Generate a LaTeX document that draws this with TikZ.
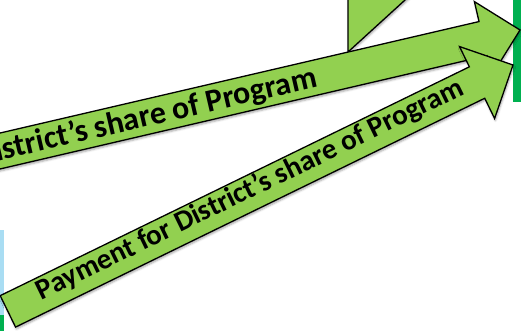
\documentclass[tikz,border=0pt]{standalone}
\usepackage{fontspec}
\setmainfont{Carlito}
\usepackage{xcolor}
\definecolor{lgreen}{RGB}{146,208,80}
\definecolor{dgreen}{RGB}{0,176,80}
\definecolor{lblue}{RGB}{169,221,243}
\usepackage{tikz}
\usetikzlibrary{shadows.blur}
\tikzstyle{blockarrow} = [
    fill=lgreen,
    draw=black,
    line width=1.3pt,
    line join=miter,
    blur shadow={shadow xshift=0.8pt, shadow yshift=-2pt, shadow blur radius=2pt, shadow opacity=35},
]
\tikzstyle{arrowtext} = [
    font=\fontsize{29}{32}\selectfont\bfseries,
    inner sep=0pt,
    anchor=base,
    transform shape,
]
\tikzstyle{bigtext} = [
    arrowtext,
    font=\fontsize{32}{35}\selectfont\bfseries,
]

\begin{document}
\begin{tikzpicture}[x=1pt,y=1pt]
    \useasboundingbox (0,0) rectangle (521,330);
    \clip (0,0) rectangle (521,330);

    % boxes
    \fill[dgreen] (512.5,228) rectangle (530,340);
    \fill[lblue] (-10,100) rectangle (4,15);
    \fill[dgreen] (-10,15) rectangle (4,-10);

    % upper arrow piece
    \draw[blockarrow] (348,340) -- (348,278) -- (416,340) -- cycle;

    % arrows
    \begin{scope}[shift={(520,300)}, rotate=13.1]
        \draw[blockarrow] (0,0) -- (-38,38) -- (-38,17.5) -- (-640,17.5)
            -- (-640,-17.5) -- (-38,-17.5) -- (-38,-38) -- cycle;
        \node (share1) [bigtext, anchor=base east] at (-209,-9.5) {District’s share of Program};
    \end{scope}
    \begin{scope}[shift={(513,265)}, rotate=26]
        \draw[blockarrow] (0,0) -- (-40,40) -- (-40,17.5) -- (-562,17.5)
            -- (-562,-17.5) -- (-40,-17.5) -- (-40,-40) -- cycle;
        \node (share2) [arrowtext] at (-291,-5) {Payment for District’s share of Program};
    \end{scope}
\end{tikzpicture}
\end{document}
